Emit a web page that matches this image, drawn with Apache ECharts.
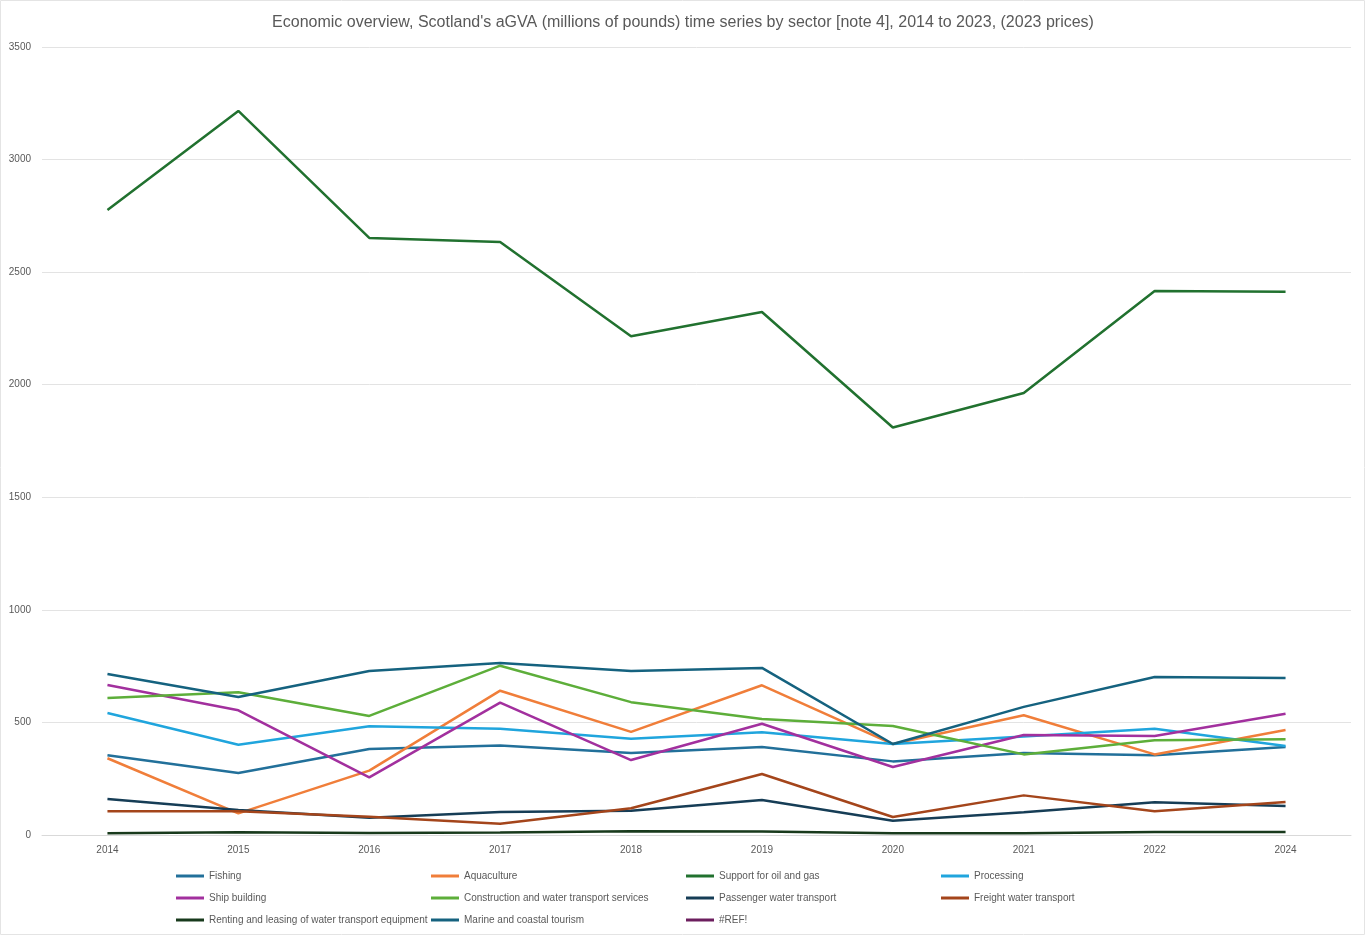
<!DOCTYPE html>
<html>
<head>
<meta charset="utf-8">
<title>Scotland aGVA by sector</title>
<script src="https://cdn.jsdelivr.net/npm/echarts@6/dist/echarts.min.js"></script>
<style>
  html, body { margin: 0; padding: 0; background: #fff; }
  #chart { width: 1366px; height: 936px; }
</style>
</head>
<body>
<div id="chart"></div>
<script>
// categories as printed on the x axis
var years = ['2014', '2015', '2016', '2017', '2018', '2019', '2020', '2021', '2022', '2024'];
var yTicks = [0, 500, 1000, 1500, 2000, 2500, 3000, 3500];

// series values (millions of pounds)
var fishing      = [354, 275, 382, 397, 364, 391, 327, 364, 354, 391];
var aquaculture  = [341, 96, 286, 641, 458, 665, 404, 532, 358, 466];
var oilGas       = [2776, 3216, 2652, 2634, 2215, 2323, 1810, 1963, 2416, 2413];
var processing   = [542, 401, 483, 472, 428, 456, 404, 438, 472, 395];
var shipBuilding = [666, 554, 256, 588, 333, 494, 302, 444, 440, 539];
var construction = [608, 634, 529, 752, 590, 515, 484, 358, 421, 425];
var passenger    = [160, 111, 77, 102, 108, 155, 63, 101, 145, 129];
var freight      = [105, 105, 81, 50, 119, 271, 80, 176, 105, 147];
var renting      = [8, 12, 9, 11, 17, 15, 8, 8, 13, 13];
var tourism      = [715, 613, 728, 764, 728, 742, 404, 569, 702, 697];
var refError     = [];

var names = ['Fishing', 'Aquaculture', 'Support for oil and gas', 'Processing',
  'Ship building', 'Construction and water transport services', 'Passenger water transport', 'Freight water transport',
  'Renting and leasing of water transport equipment', 'Marine and coastal tourism', '#REF!'];
var values = [fishing, aquaculture, oilGas, processing, shipBuilding, construction,
  passenger, freight, renting, tourism, refError];
var colors = ['#22709A', '#F07E3A', '#21712F', '#20A5DD', '#A2309E', '#5DAE3A',
  '#163D56', '#A4451B', '#183A1C', '#15627F', '#6C1E5E'];

var chart = echarts.init(document.getElementById('chart'));
var txt = '#595959';
var font = '"Liberation Sans Narrow", "Liberation Sans", sans-serif';

// legend: 4 columns, built as one vertical legend per column
var legends = [];
for (var c = 0; c < 4; c++) {
  var col = [];
  for (var i = c; i < names.length; i += 4) col.push(names[i]);
  legends.push({
    orient: 'vertical',
    left: 171 + c * 255,
    top: 866,
    itemGap: 12,
    itemWidth: 28,
    itemHeight: 3,
    icon: 'rect',
    data: col,
    textStyle: { color: txt, fontSize: 10, fontFamily: font }
  });
}

var series = names.map(function (n, i) {
  return {
    name: n,
    type: 'line',
    data: values[i],
    symbol: 'none',
    lineStyle: { width: 2.5, color: colors[i] },
    itemStyle: { color: colors[i] }
  };
});

chart.setOption({
  animation: false,
  textStyle: { fontFamily: font },
  title: {
    text: "Economic overview, Scotland's aGVA (millions of pounds) time series by sector [note 4], 2014 to 2023, (2023 prices)",
    left: 'center',
    top: 10,
    textStyle: { color: txt, fontSize: 16, fontWeight: 'normal', fontFamily: font }
  },
  // faint chart-area border
  graphic: [{
    type: 'rect',
    shape: { x: 0.5, y: 0.5, width: 1364, height: 934 },
    style: { fill: 'none', stroke: '#e4e4e4', lineWidth: 1 },
    silent: true
  }],
  legend: legends,
  grid: { left: 42, right: 15, top: 47, bottom: 101, containLabel: false },
  xAxis: {
    type: 'category',
    data: years,
    boundaryGap: true,
    axisLine: { show: true, lineStyle: { color: '#d9d9d9' } },
    axisTick: { show: false },
    axisLabel: { color: txt, fontSize: 10, fontFamily: font, margin: 10 }
  },
  yAxis: {
    type: 'value',
    min: yTicks[0],
    max: yTicks[yTicks.length - 1],
    interval: 500,
    axisLine: { show: false },
    axisTick: { show: false },
    axisLabel: {
      color: txt, fontSize: 10, fontFamily: font, margin: 11,
      formatter: function (v) { return String(v); }
    },
    splitLine: { lineStyle: { color: '#e3e3e3', width: 1 } }
  },
  series: series
});
</script>
</body>
</html>
